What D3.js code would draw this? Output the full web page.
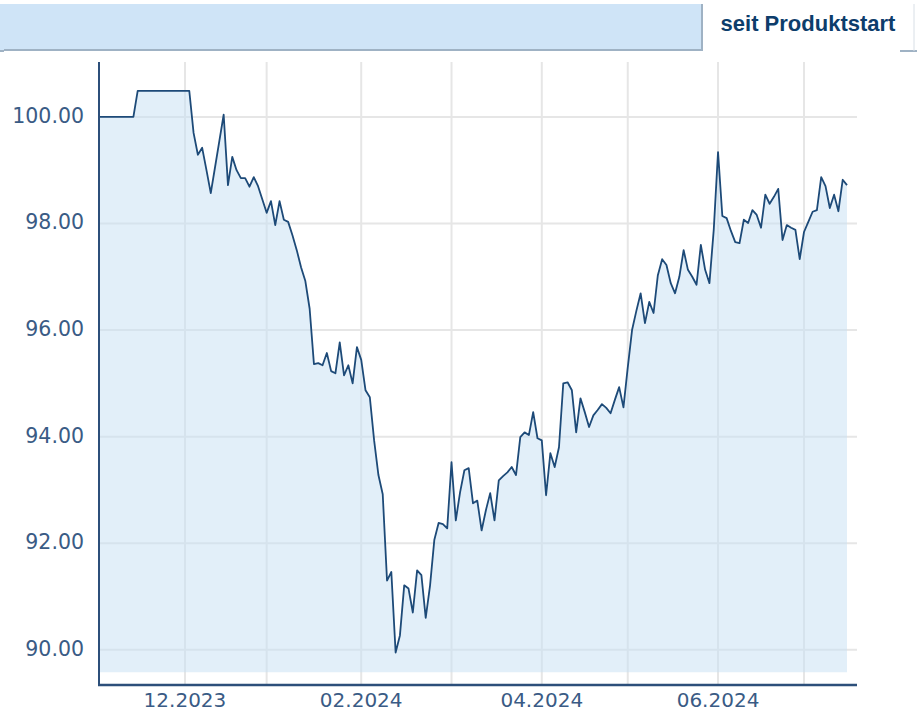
<!DOCTYPE html>
<html>
<head>
<meta charset="utf-8">
<script src="https://d3js.org/d3.v7.min.js"></script>
<style>
  body { margin: 0; background: #fff; }
</style>
</head>
<body>
<div id="chart"></div>
<script>
// daily closing prices, one per trading day since product start
const values = [
  100.00, 100.00, 100.00, 100.00, 100.00, 100.00, 100.00, 100.00, 100.00,
  100.49, 100.49, 100.49, 100.49, 100.49, 100.49, 100.49, 100.49, 100.49, 100.49, 100.49, 100.49, 100.49,
  99.70, 99.29, 99.42, 99.00, 98.57, 99.06, 99.55, 100.04, 98.72, 99.25,
  99.00, 98.85, 98.85, 98.69, 98.87, 98.70, 98.45, 98.20, 98.42, 97.97,
  98.42, 98.07, 98.03, 97.78, 97.50, 97.18, 96.92, 96.40, 95.36, 95.38,
  95.34, 95.57, 95.23, 95.19, 95.77, 95.15, 95.34, 95.00, 95.68, 95.44,
  94.87, 94.74, 93.93, 93.28, 92.92, 91.30, 91.46, 89.95, 90.27, 91.21,
  91.15, 90.70, 91.49, 91.40, 90.60, 91.20, 92.06, 92.38, 92.36, 92.28,
  93.52, 92.43, 92.96, 93.37, 93.41, 92.75, 92.80, 92.24, 92.62, 92.94,
  92.43, 93.18, 93.26, 93.33, 93.43, 93.28, 93.99, 94.08, 94.03, 94.46,
  93.97, 93.93, 92.90, 93.69, 93.43, 93.80, 95.00, 95.02, 94.87, 94.08,
  94.72, 94.46, 94.18, 94.40, 94.50, 94.61, 94.54, 94.44, 94.69, 94.93,
  94.55, 95.30, 96.00, 96.36, 96.69, 96.13, 96.53, 96.32, 97.03, 97.33,
  97.22, 96.88, 96.69, 97.00, 97.50, 97.13, 97.00, 96.85, 97.60, 97.13,
  96.88, 97.88, 99.34, 98.14, 98.10, 97.86, 97.65, 97.63, 98.07, 98.01,
  98.25, 98.16, 97.92, 98.54, 98.37, 98.50, 98.65, 97.69, 97.97, 97.92,
  97.88, 97.33, 97.84, 98.03, 98.22, 98.25, 98.87, 98.70, 98.29, 98.54,
  98.23, 98.82, 98.72
];

// first trading day of each month (index into values) and its label
const monthIdx = [20, 39, 61, 82, 103, 123, 144, 164];
const monthLabels = ["12.2023", "", "02.2024", "", "04.2024", "", "06.2024", ""];
const yTicks = [90, 92, 94, 96, 98, 100];
const tabLabel = "seit Produktstart";

const width = 917, height = 713;
const plot = { left: 99, right: 857, top: 62, bottom: 685 };

const svg = d3.select("#chart").append("svg")
  .attr("width", width)
  .attr("height", height);

// header band with tab
svg.append("rect").attr("x", 0).attr("y", 4).attr("width", 702).attr("height", 46).attr("fill", "#cfe4f7");
svg.append("line").attr("x1", 4).attr("x2", 702).attr("y1", 50).attr("y2", 50)
  .attr("stroke", "#9fb2c4").attr("stroke-width", 2);
svg.append("line").attr("x1", 702).attr("x2", 702).attr("y1", 4).attr("y2", 51)
  .attr("stroke", "#9fb2c4").attr("stroke-width", 2);
svg.append("line").attr("x1", 900).attr("x2", 917).attr("y1", 51).attr("y2", 51)
  .attr("stroke", "#9fb2c4").attr("stroke-width", 2);
svg.append("line").attr("x1", 914).attr("x2", 914).attr("y1", 4).attr("y2", 51)
  .attr("stroke", "#d8dfe6").attr("stroke-width", 1);
svg.append("line").attr("x1", 0).attr("x2", 4).attr("y1", 51).attr("y2", 51)
  .attr("stroke", "#9fb2c4").attr("stroke-width", 2);
svg.append("text")
  .attr("x", 808).attr("y", 25)
  .attr("text-anchor", "middle")
  .attr("dominant-baseline", "middle")
  .attr("font-family", "Liberation Sans, Arial, sans-serif")
  .attr("font-weight", "bold")
  .attr("font-size", 22)
  .attr("fill", "#0d3d6b")
  .text(tabLabel);

// scales
const x = d3.scaleLinear()
  .domain([0, values.length - 1])
  .range([plot.left, 847]);

const y = d3.scaleLinear()
  .domain([89.34, 101.03])
  .range([plot.bottom, plot.top]);

// grid
svg.append("g").selectAll("line.h")
  .data(yTicks).enter().append("line")
  .attr("x1", plot.left).attr("x2", plot.right)
  .attr("y1", d => y(d)).attr("y2", d => y(d))
  .attr("stroke", "#e6e6e6").attr("stroke-width", 2);

svg.append("g").selectAll("line.v")
  .data(monthIdx).enter().append("line")
  .attr("x1", d => x(d)).attr("x2", d => x(d))
  .attr("y1", plot.top).attr("y2", plot.bottom)
  .attr("stroke", "#e6e6e6").attr("stroke-width", 2);

// area + line
const baseline = 89.58;
const area = d3.area()
  .x((d, i) => x(i))
  .y0(y(baseline))
  .y1(d => y(d));

svg.append("path")
  .datum(values)
  .attr("d", area)
  .attr("fill", "#c6dff3")
  .attr("fill-opacity", 0.5);

const line = d3.line()
  .x((d, i) => x(i))
  .y(d => y(d));

svg.append("path")
  .datum(values)
  .attr("d", line)
  .attr("fill", "none")
  .attr("stroke", "#1d4a78")
  .attr("stroke-width", 1.8)
  .attr("stroke-linejoin", "round");

// axes
const axisColor = "#2c4f7a";
const labelColor = "#3a5b85";

svg.append("line")
  .attr("x1", plot.left).attr("x2", plot.left)
  .attr("y1", plot.top).attr("y2", plot.bottom)
  .attr("stroke", axisColor).attr("stroke-width", 2);

svg.append("line")
  .attr("x1", plot.left - 1).attr("x2", plot.right)
  .attr("y1", plot.bottom).attr("y2", plot.bottom)
  .attr("stroke", axisColor).attr("stroke-width", 2.5);

svg.append("g").selectAll("text")
  .data(yTicks).enter().append("text")
  .attr("x", 84)
  .attr("y", d => y(d))
  .attr("text-anchor", "end")
  .attr("dominant-baseline", "middle")
  .attr("font-family", "DejaVu Sans, Verdana, sans-serif")
  .attr("font-size", 20.5)
  .attr("fill", labelColor)
  .text(d => d3.format(".2f")(d));

svg.append("g").selectAll("text")
  .data(monthIdx.filter((d, i) => monthLabels[i] !== "")).enter().append("text")
  .attr("x", d => x(d))
  .attr("y", 701)
  .attr("text-anchor", "middle")
  .attr("dominant-baseline", "middle")
  .attr("font-family", "DejaVu Sans, Verdana, sans-serif")
  .attr("font-size", 20)
  .attr("fill", labelColor)
  .text(d => monthLabels[monthIdx.indexOf(d)]);
</script>
</body>
</html>
